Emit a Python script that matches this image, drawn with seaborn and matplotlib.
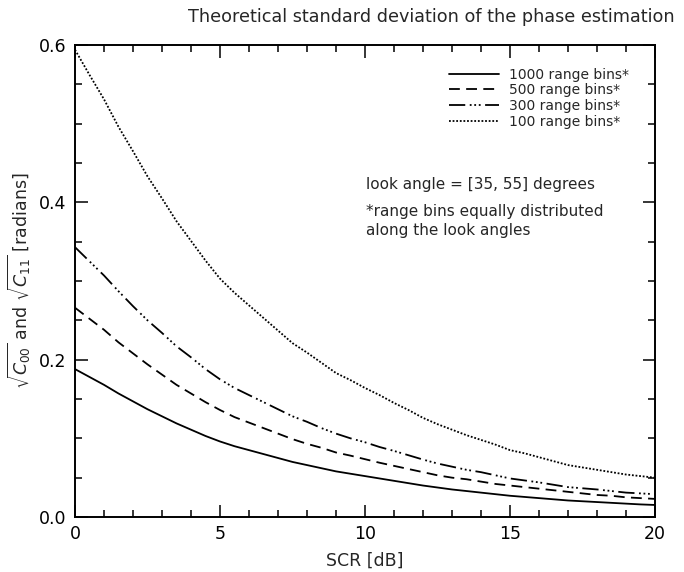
import numpy as np
import pandas as pd
import matplotlib
matplotlib.use("Agg")
import matplotlib.pyplot as plt
import seaborn as sns
from matplotlib.ticker import MultipleLocator, FormatStrFormatter

# SCR in dB (0 to 20 in 0.5 dB steps)
scr_db = [0, 0.5, 1, 1.5, 2, 2.5, 3, 3.5, 4, 4.5, 5, 5.5, 6, 6.5, 7, 7.5, 8, 8.5, 9, 9.5, 10,
          10.5, 11, 11.5, 12, 12.5, 13, 13.5, 14, 14.5, 15, 15.5, 16, 16.5, 17, 17.5, 18,
          18.5, 19, 19.5, 20]

# standard deviation [radians] for each number of range bins
bins_1000 = [0.188, 0.178, 0.168, 0.157, 0.147, 0.137, 0.128, 0.119, 0.111, 0.103, 0.096,
             0.090, 0.085, 0.080, 0.075, 0.070, 0.066, 0.062, 0.058, 0.055, 0.052,
             0.049, 0.046, 0.043, 0.040, 0.0375, 0.035, 0.033, 0.031, 0.029, 0.027,
             0.0255, 0.024, 0.0225, 0.021, 0.020, 0.019, 0.018, 0.017, 0.016, 0.0153]
bins_500 = [0.266, 0.252, 0.238, 0.222, 0.208, 0.194, 0.181, 0.168, 0.157, 0.146, 0.136,
            0.127, 0.120, 0.113, 0.106, 0.099, 0.093, 0.088, 0.082, 0.078, 0.0735,
            0.069, 0.065, 0.061, 0.057, 0.053, 0.050, 0.048, 0.045, 0.042, 0.040,
            0.038, 0.036, 0.034, 0.032, 0.030, 0.028, 0.027, 0.025, 0.024, 0.023]
bins_300 = [0.343, 0.325, 0.307, 0.287, 0.268, 0.250, 0.234, 0.217, 0.203, 0.188, 0.175,
            0.164, 0.155, 0.146, 0.137, 0.128, 0.121, 0.113, 0.106, 0.100, 0.095,
            0.089, 0.084, 0.0785, 0.073, 0.068, 0.064, 0.060, 0.057, 0.053, 0.049,
            0.0465, 0.044, 0.041, 0.038, 0.0365, 0.035, 0.033, 0.031, 0.030, 0.029]
bins_100 = [0.594, 0.562, 0.531, 0.496, 0.465, 0.433, 0.405, 0.376, 0.351, 0.326, 0.303,
            0.285, 0.269, 0.253, 0.237, 0.221, 0.209, 0.196, 0.183, 0.174, 0.164,
            0.155, 0.145, 0.136, 0.126, 0.118, 0.111, 0.104, 0.098, 0.092, 0.085,
            0.081, 0.076, 0.071, 0.066, 0.063, 0.060, 0.057, 0.054, 0.052, 0.050]

series_labels = ["1000 range bins*", "500 range bins*", "300 range bins*", "100 range bins*"]
series_values = [bins_1000, bins_500, bins_300, bins_100]

sns.set_style("white")
plt.rcParams["font.family"] = ["DejaVu Sans"]
plt.rcParams["mathtext.fontset"] = "dejavusans"
plt.rcParams["xtick.direction"] = "in"
plt.rcParams["ytick.direction"] = "in"

fig = plt.figure(figsize=(6.84, 5.72), dpi=100)
ax = fig.add_axes([75 / 684, 1 - 517 / 572, 580 / 684, 472 / 572])

styles = ["-", (0, (6, 3.5)), (0, (9, 2.5, 1, 1.5, 1, 1.5, 1, 2.5)), (0, (1, 1))]
for lab, vals, ls in zip(series_labels, series_values, styles):
    df = pd.DataFrame({"SCR": scr_db, "sigma": vals})
    sns.lineplot(data=df, x="SCR", y="sigma", ax=ax, color="black",
                 linestyle=ls, linewidth=1.3, label=lab)

ax.set_xlim(0, 20)
ax.set_ylim(0, 0.6)
ax.xaxis.set_major_locator(MultipleLocator(5))
ax.xaxis.set_minor_locator(MultipleLocator(1))
ax.yaxis.set_major_locator(MultipleLocator(0.2))
ax.yaxis.set_minor_locator(MultipleLocator(0.05))
ax.yaxis.set_major_formatter(FormatStrFormatter("%.1f"))
ax.tick_params(which="both", direction="in", top=True, right=True, bottom=True, left=True,
               width=1.1, labelsize=12.5, colors="black")
ax.tick_params(which="major", length=9, pad=6)
ax.tick_params(which="minor", length=5)
for s in ax.spines.values():
    s.set_linewidth(1.4)
    s.set_color("black")

ax.set_xlabel("SCR [dB]", fontsize=12.5, labelpad=6)
ax.set_ylabel(r"$\sqrt{C_{00}}$ and $\sqrt{C_{11}}$ [radians]", fontsize=12.5, labelpad=4)

fig.text(431 / 684, 1 - 17 / 572, "Theoretical standard deviation of the phase estimation",
         ha="center", va="center", fontsize=12.7)

leg = ax.legend(loc="upper right", bbox_to_anchor=(0.955, 0.952), frameon=False,
                fontsize=10, handlelength=3.6, labelspacing=0.12, handletextpad=0.7,
                borderpad=0, borderaxespad=0)

ax.text(0.502, 0.705, "look angle = [35, 55] degrees", transform=ax.transAxes,
        fontsize=11, va="center", ha="left")
ax.text(0.502, 0.663, "*range bins equally distributed\nalong the look angles",
        transform=ax.transAxes, fontsize=11, va="top", ha="left", linespacing=1.35)

fig.savefig("out.png", dpi=100)
